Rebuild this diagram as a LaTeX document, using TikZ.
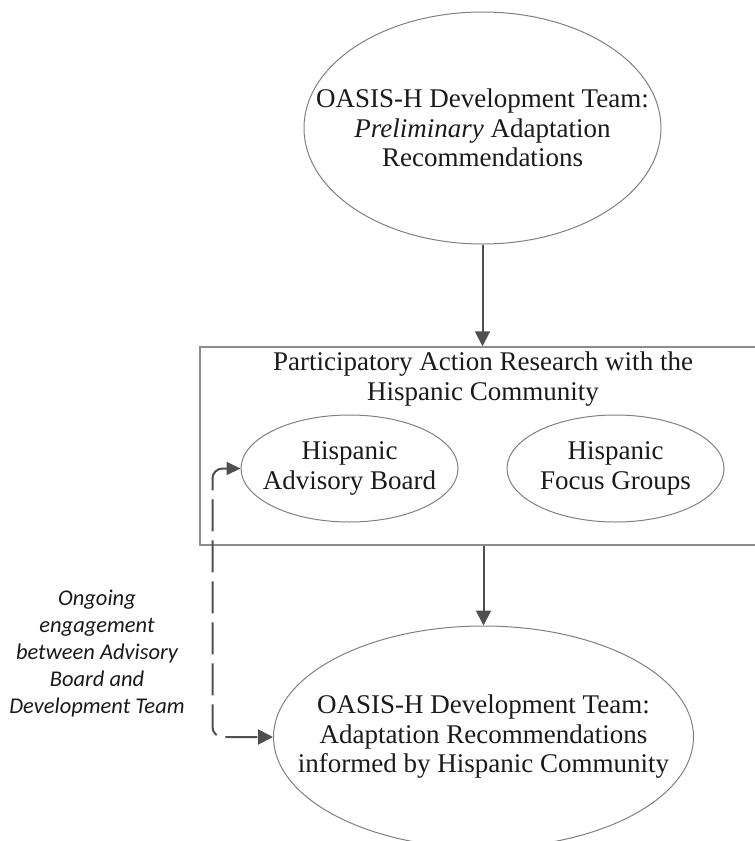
\documentclass[tikz,border=0pt]{standalone}
\usepackage{fontspec}
\setmainfont{Liberation Serif}
\newfontfamily\notefont{Carlito}
\usetikzlibrary{shapes.geometric,arrows.meta}

\definecolor{outline}{HTML}{808080}
\definecolor{boxline}{HTML}{8C8C8C}
\definecolor{arrowgray}{HTML}{4F4F4F}
\definecolor{inkgray}{HTML}{1A1A1A}

\tikzset{
  bubble/.style={ellipse, draw=outline, line width=1pt, inner sep=0pt},
  bubbletext/.style={align=center, text=inkgray, inner sep=0pt,
    font=\fontsize{27}{29.5}\selectfont},
  groupbox/.style={rectangle, draw=boxline, line width=1.5pt, inner sep=0pt},
  flow/.style={draw=arrowgray, line width=2pt,
    -{Triangle[length=15pt,width=15pt]}},
  engage/.style={draw=arrowgray, line width=2pt, rounded corners=10pt,
    dash pattern=on 32pt off 9pt,
    {Triangle[length=14pt,width=13pt]}-{Triangle[length=15pt,width=15pt]}},
  note/.style={align=center, text=inkgray, inner sep=0pt,
    font=\notefont\itshape\fontsize{22.5}{27}\selectfont}
}

\begin{document}
\begin{tikzpicture}[x=1pt, y=-1pt]
  \useasboundingbox (0,0) rectangle (755,841);
  \clip (0,0) rectangle (755,841);

  % preliminary recommendations
  \node[bubble, minimum width=357pt, minimum height=232pt,
    label={[bubbletext]center:OASIS-H Development Team:\\\textit{Preliminary} Adaptation\\Recommendations}]
    (prelim) at (482.5,128) {};

  % participatory action research group, title set near its top edge
  \node[groupbox, minimum width=566pt, minimum height=198pt,
    label={[bubbletext, anchor=center, yshift=-33pt, font=\fontsize{27}{30}\selectfont]north:{Participatory Action Research with the\\Hispanic Community}}]
    (par) at (483,446) {};
  \node[bubble, minimum width=217pt, minimum height=107pt,
    label={[bubbletext]center:Hispanic\\Advisory Board}]
    (board) at (349.5,468.5) {};
  \node[bubble, minimum width=217pt, minimum height=107pt,
    label={[bubbletext]center:Hispanic\\Focus Groups}]
    (focus) at (615.5,468.5) {};

  % final recommendations
  \node[bubble, minimum width=420pt, minimum height=222pt,
    label={[bubbletext]center:OASIS-H Development Team:\\Adaptation Recommendations\\informed by Hispanic Community}]
    (final) at (483.5,737) {};

  % main flow
  \draw[flow] (prelim.south) -- (par.north -| prelim.south);
  \draw[flow] (par.south -| final.north) -- (final.north);

  % ongoing engagement loop
  \draw[engage] (board.west) -- ++(-28,0) |- (final.west);
  \node[note] (engnote) at (97,654)
    {Ongoing\\engagement\\between Advisory\\Board and\\Development Team};
\end{tikzpicture}
\end{document}
